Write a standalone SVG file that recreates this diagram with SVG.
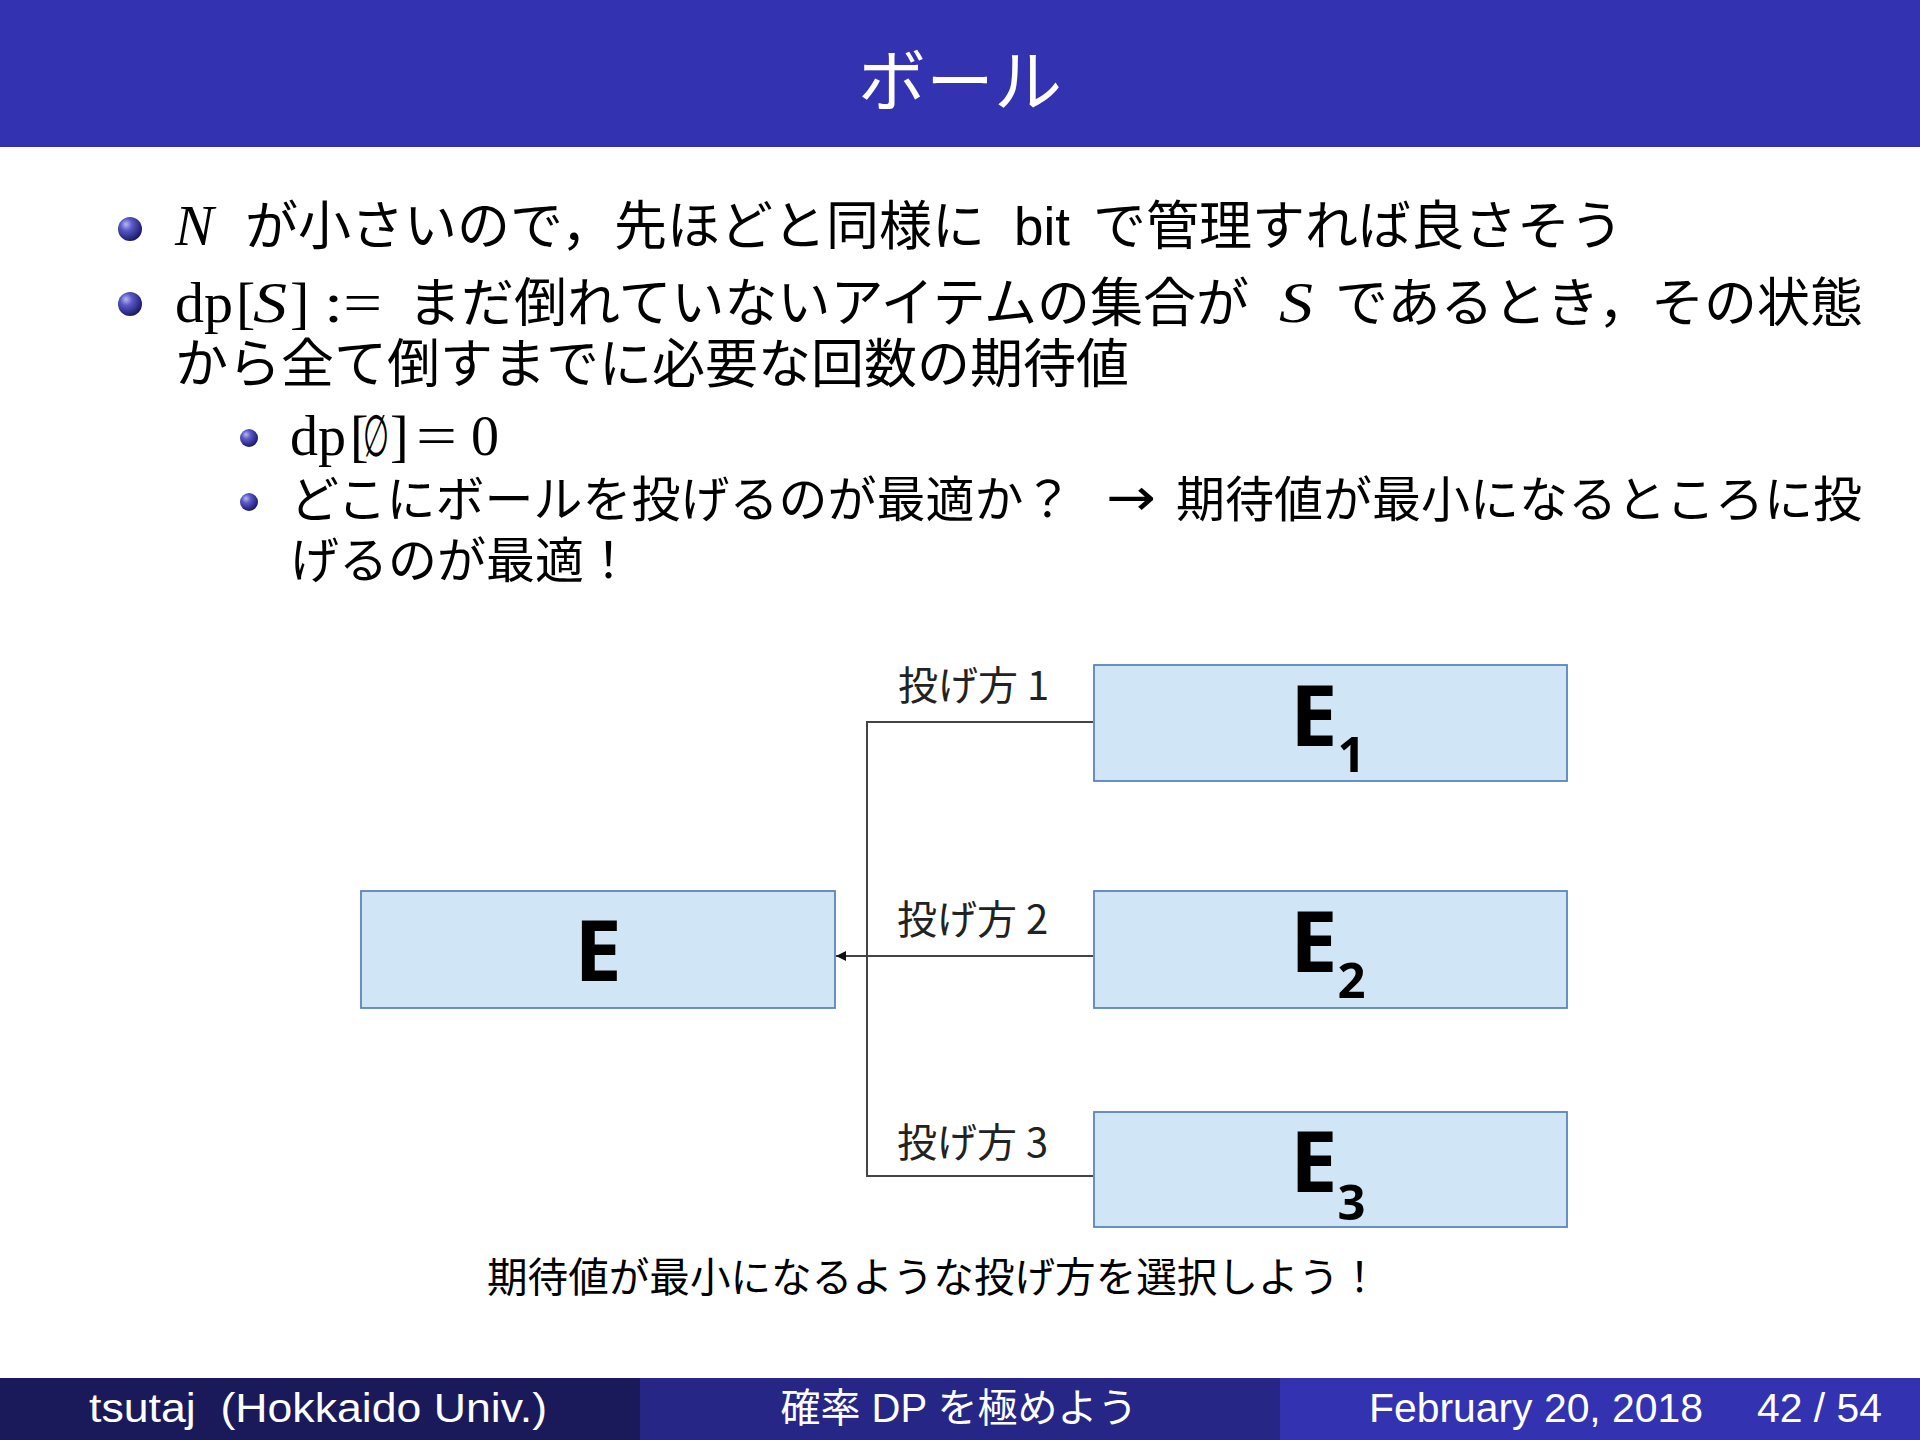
<svg xmlns="http://www.w3.org/2000/svg" width="1920" height="1440" viewBox="0 0 1920 1440">
<defs>
<radialGradient id="ball" cx="0.38" cy="0.35" r="0.7" fx="0.33" fy="0.3">
<stop offset="0" stop-color="#b8b8f0"/>
<stop offset="0.35" stop-color="#5a5ac8"/>
<stop offset="0.85" stop-color="#24247a"/>
<stop offset="1" stop-color="#141450"/>
</radialGradient>
<marker id="arr" viewBox="0 0 10 10" refX="10" refY="5" markerWidth="10" markerHeight="10" markerUnits="userSpaceOnUse" orient="auto">
<path d="M0,0 L10,5 L0,10 z" fill="#111"/>
</marker>
<style>
.jp{font-family:"Noto Sans CJK JP","Noto Sans",sans-serif;fill:#000}
.m{font-family:"Liberation Serif","DejaVu Serif",serif;fill:#000}
.mi{font-family:"Liberation Serif","DejaVu Serif",serif;font-style:italic;fill:#000}
.la{font-family:"Liberation Sans","Noto Sans",sans-serif;fill:#000}
.b1{font-size:53px}
.b2{font-size:49px}
.mm1{font-size:58px}
.mm2{font-size:56px}
.box{fill:#d0e5f5;stroke:#5b84bd;stroke-width:1.8}
.et{font-family:"Open Sans","Liberation Sans",sans-serif;font-weight:700;fill:#000}
.lbl{font-family:"Noto Sans CJK JP","Noto Sans",sans-serif;font-size:40px;fill:#222}
.con{stroke:#444;stroke-width:2;fill:none}
.ft{font-family:"Liberation Sans","Noto Sans CJK JP",sans-serif;font-size:40px;fill:#fff}
</style>
</defs>
<rect x="0" y="0" width="1920" height="1440" fill="#fff"/>
<g id="title">
<rect x="0" y="0" width="1920" height="147" fill="#3333b2"/>
<text x="960" y="106" text-anchor="middle" font-family="'Noto Sans CJK JP',sans-serif" font-size="68" fill="#fff">ボール</text>
</g>
<g id="body">
<circle cx="130" cy="229" r="12" fill="url(#ball)"/>
<text class="mi mm1" x="175" y="245">N</text>
<text class="b1" y="245"><tspan class="jp" x="245">が小さいので，先ほどと同様に</tspan><tspan class="la" x="1014">bit</tspan><tspan class="jp" x="1093">で管理すれば良さそう</tspan></text>
<circle cx="130" cy="304" r="12" fill="url(#ball)"/>
<text class="m mm1" x="175" y="322">dp</text>
<text class="m mm1" x="236" y="322">[</text>
<text class="mi mm1" x="253" y="322" textLength="34" lengthAdjust="spacingAndGlyphs">S</text>
<text class="m mm1" x="290" y="322">]</text>
<text class="m mm1" x="324" y="322" textLength="58" lengthAdjust="spacingAndGlyphs">:=</text>
<text class="b1 jp" x="408" y="322">まだ倒れていないアイテムの集合が</text>
<text class="mi mm1" x="1279" y="322" textLength="34" lengthAdjust="spacingAndGlyphs">S</text>
<text class="b1 jp" x="1335" y="322">であるとき，その状態</text>
<text class="b1 jp" x="175" y="383">から全て倒すまでに必要な回数の期待値</text>
<circle cx="249" cy="438" r="9" fill="url(#ball)"/>
<text class="m mm2" x="290" y="455">dp</text>
<text class="m mm2" x="350" y="455">[</text>
<text x="363" y="456" font-family="'DejaVu Sans',sans-serif" font-size="58" textLength="26" lengthAdjust="spacingAndGlyphs">∅</text>
<text class="m mm2" x="390" y="455">]</text>
<text class="m mm2" x="416" y="455" textLength="41" lengthAdjust="spacingAndGlyphs">=</text>
<text class="m mm2" x="471" y="455">0</text>
<circle cx="249" cy="502" r="9" fill="url(#ball)"/>
<text class="b2 jp" x="290" y="517">どこにボールを投げるのが最適か？</text>
<text x="1106" y="515" font-family="'DejaVu Sans',sans-serif" font-size="52" textLength="50" lengthAdjust="spacingAndGlyphs">→</text>
<text class="b2 jp" x="1176" y="517">期待値が最小になるところに投</text>
<text class="b2 jp" x="290" y="578">げるのが最適！</text>
</g>
<g id="connectors">
<polyline class="con" points="1093,722 867,722 867,1176 1093,1176"/>
<line class="con" x1="1093" y1="956" x2="836" y2="956" marker-end="url(#arr)"/>
</g>
<g id="node-E">
<rect class="box" x="361" y="891" width="474" height="117"/>
<text class="et" x="598" y="981" font-size="85" text-anchor="middle">E</text>
</g>
<g id="node-E1">
<rect class="box" x="1094" y="665" width="473" height="116"/>
<text class="et" x="1290" y="746" font-size="85">E<tspan font-size="49" y="772">1</tspan></text>
<text class="lbl" x="898" y="700">投げ方 1</text>
</g>
<g id="node-E2">
<rect class="box" x="1094" y="891" width="473" height="117"/>
<text class="et" x="1290" y="972" font-size="85">E<tspan font-size="49" y="998">2</tspan></text>
<text class="lbl" x="897" y="934">投げ方 2</text>
</g>
<g id="node-E3">
<rect class="box" x="1094" y="1112" width="473" height="115"/>
<text class="et" x="1290" y="1192" font-size="85">E<tspan font-size="49" y="1220">3</tspan></text>
<text class="lbl" x="897" y="1157">投げ方 3</text>
</g>
<g id="caption">
<text class="jp" x="487" y="1292" font-size="40.6" fill="#111">期待値が最小になるような投げ方を選択しよう！</text>
</g>
<g id="footer">
<rect x="0" y="1378" width="640" height="62" fill="#1a1a5a"/>
<rect x="640" y="1378" width="640" height="62" fill="#262687"/>
<rect x="1280" y="1378" width="640" height="62" fill="#3333b2"/>
<text class="ft" x="89" y="1422" textLength="458" lengthAdjust="spacingAndGlyphs" xml:space="preserve">tsutaj  (Hokkaido Univ.)</text>
<text class="ft" x="959" y="1422" text-anchor="middle" font-family="'Noto Sans CJK JP',sans-serif">確率 DP を極めよう</text>
<text class="ft" x="1369" y="1422" textLength="334" lengthAdjust="spacingAndGlyphs">February 20, 2018</text>
<text class="ft" x="1757" y="1422" textLength="125" lengthAdjust="spacingAndGlyphs">42 / 54</text>
</g>
</svg>
